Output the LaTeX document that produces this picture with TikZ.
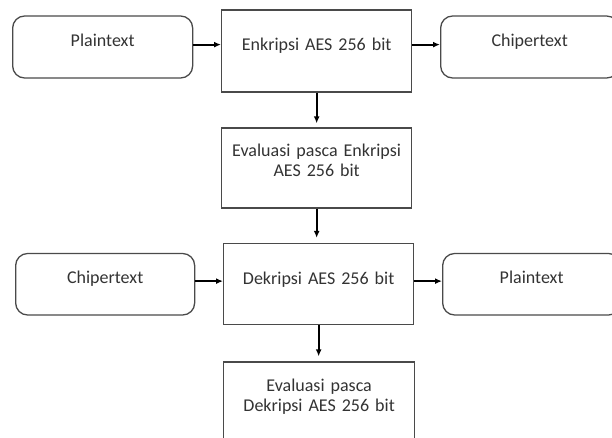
\documentclass[tikz,border=0pt]{standalone}
\usepackage{fontspec}
\setmainfont{Carlito}
\usepackage{xcolor}
\usetikzlibrary{arrows.meta}
\definecolor{boxgray}{HTML}{4A4A4A}
\definecolor{textgray}{HTML}{333333}

\begin{document}
\begin{tikzpicture}[
    x=1pt, y=-1pt,
    box/.style={draw=boxgray, line width=1.3pt, inner sep=0pt, anchor=base west, align=center, text=textgray, font=\fontsize{18}{19.5}\selectfont},
    endbox/.style={box, rounded corners=12pt},
    arr/.style={-{Latex[length=7pt,width=6pt]}, line width=1.8pt}
]
    \clip (0,0) rectangle (612,438);
    % Encryption row
    \node[endbox, text width=180pt, text height=31pt, text depth=31pt] at (12,47) (plainIn) {Plaintext};
    \node[box, text width=190pt, text height=41pt, text depth=41pt] at (221,51) (enc) {Enkripsi AES 256 bit};
    \node[endbox, text width=178pt, text height=31pt, text depth=31pt] at (440,47) (cipherOut) {Chipertext};
    \node[box, text width=190pt, text height=28.7pt, text depth=51.3pt] at (221,156.7) (evalEnc) {Evaluasi pasca Enkripsi\\AES 256 bit};
    % Decryption row
    \node[endbox, text width=179pt, text height=30pt, text depth=31.5pt] at (15,283.5) (cipherIn) {Chipertext};
    \node[box, text width=190pt, text height=40.5pt, text depth=40.5pt] at (223,284) (dec) {Dekripsi AES 256 bit};
    \node[endbox, text width=178pt, text height=30pt, text depth=31.5pt] at (442,283.5) (plainOut) {Plaintext};
    \node[box, text width=191pt, text height=29.7pt, text depth=51.3pt] at (223,391.7) (evalDec) {Evaluasi pasca\\Dekripsi AES 256 bit};
    % Connectors
    \draw[arr] (plainIn.mid east) -- (plainIn.mid east -| enc.west);
    \draw[arr] (enc.east |- cipherOut.mid west) -- (cipherOut.mid west);
    \draw[arr, shorten >=4pt] (enc.south) -- (enc.south |- evalEnc.north);
    \draw[arr, shorten >=5pt] (evalEnc.south) -- (evalEnc.south |- dec.north);
    \draw[arr] (cipherIn.mid east) -- (cipherIn.mid east -| dec.west);
    \draw[arr] (dec.east |- plainOut.mid west) -- (plainOut.mid west);
    \draw[arr, shorten >=5pt] (dec.south) -- (dec.south |- evalDec.north);
\end{tikzpicture}
\end{document}
